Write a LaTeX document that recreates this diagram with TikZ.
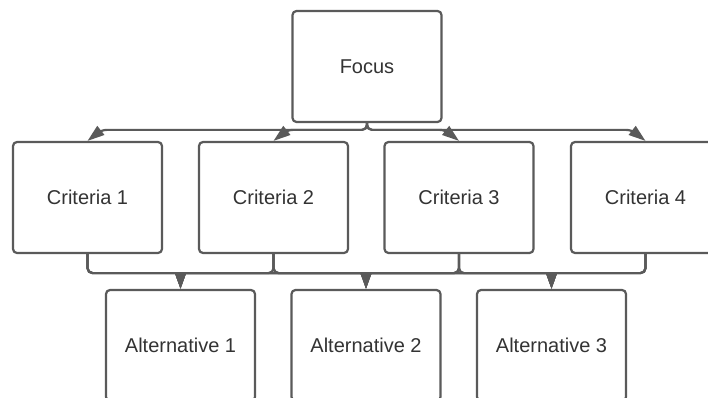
\documentclass[tikz,border=0pt]{standalone}
\usepackage{fontspec}
\setmainfont{Liberation Sans}
\usetikzlibrary{arrows.meta,calc}
\definecolor{edge}{HTML}{5A5A5A}
\definecolor{txt}{HTML}{333333}
\tikzset{
  box/.style={draw=edge, line width=2.2pt, rounded corners=4pt, fill=white,
    minimum width=149pt, minimum height=111pt, inner sep=0pt,
    text=txt, font=\fontsize{20}{24}\selectfont},
  conn/.style={draw=edge, line width=2.2pt, rounded corners=5pt,
    -{Triangle[length=15pt,width=10pt]}},
  topconn/.style={conn, -{Triangle[length=17pt,width=11pt]}}
}
\begin{document}
\begin{tikzpicture}[x=1pt,y=-1pt]
\useasboundingbox (0,0) rectangle (708,398);
\clip (0,0) rectangle (708,398);
\fill[white] (0,0) rectangle (708,398);
\node[box] (focus) at (367,66.5) {Focus};
\node[box] (c1) at (87.5,197.5) {Criteria 1};
\node[box] (c2) at (273.5,197.5) {Criteria 2};
\node[box] (c3) at (459,197.5) {Criteria 3};
\node[box] (c4) at (645.5,197.5) {Criteria 4};
\node[box] (a1) at (180.5,345.5) {Alternative 1};
\node[box] (a2) at (366,345.5) {Alternative 2};
\node[box] (a3) at (551.5,345.5) {Alternative 3};
\foreach \c in {c1,c2}{
  \draw[topconn] (focus.south) |- ($(\c.north)+(14,-11)$) -- (\c.north);
}
\foreach \c in {c3,c4}{
  \draw[topconn] (focus.south) |- ($(\c.north)+(-14,-11)$) -- (\c.north);
}
\foreach \c in {c1,c2,c3,c4}{
  \foreach \a in {a1,a2,a3}{
    \draw[conn] (\c.south) -- ++(0,19) -| (\a.north);
  }
}
\end{tikzpicture}
\end{document}
